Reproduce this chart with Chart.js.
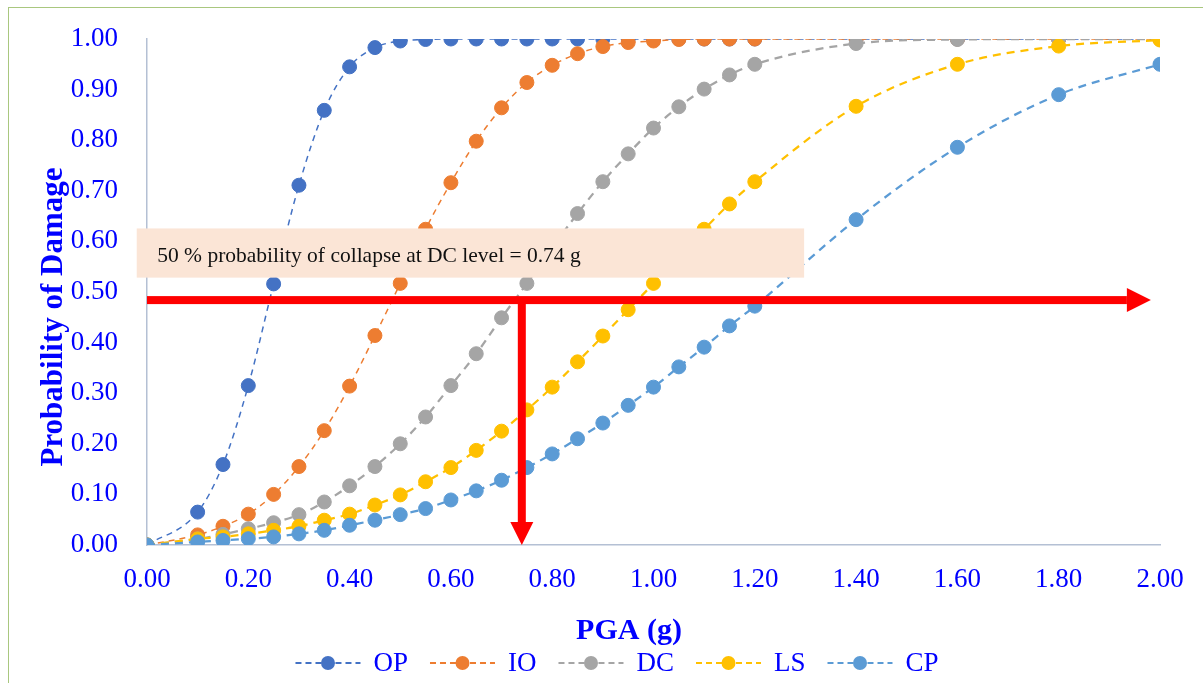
<!DOCTYPE html>
<html>
<head>
<meta charset="utf-8">
<script src="https://cdn.jsdelivr.net/npm/chart.js@4.4.0/dist/chart.umd.min.js"></script>
<style>
html,body{margin:0;padding:0;background:#fff;overflow:hidden;}
#wrap{position:relative;width:1203px;height:683px;}
#c{position:absolute;left:0;top:0;}
#frame{position:absolute;left:8px;top:7px;width:1300px;height:800px;border-top:1px solid #A9C77F;border-left:1px solid #A9C77F;pointer-events:none;}
</style>
</head>
<body>
<div id="wrap"><canvas id="c" width="1203" height="683"></canvas><div id="frame"></div></div>
<script>
// ---- data ----
const pga = [0, 0.1, 0.15, 0.2, 0.25, 0.3, 0.35, 0.4, 0.45, 0.5, 0.55, 0.6, 0.65, 0.7, 0.75, 0.8, 0.85, 0.9, 0.95, 1.0, 1.05, 1.1, 1.15, 1.2, 1.4, 1.6, 1.8, 2.0];
const OP = [0, 0.065, 0.159, 0.315, 0.516, 0.711, 0.859, 0.945, 0.983, 0.996, 0.999, 1, 1, 1, 1, 1, 1, 1, 1, 1, 1, 1, 1, 1, 1, 1, 1, 1];
const IO = [0, 0.020, 0.037, 0.061, 0.100, 0.155, 0.226, 0.314, 0.414, 0.517, 0.624, 0.716, 0.798, 0.864, 0.914, 0.948, 0.971, 0.985, 0.993, 0.996, 0.999, 1, 1, 1, 1, 1, 1, 1];
const DC = [0, 0.012, 0.021, 0.032, 0.044, 0.060, 0.085, 0.117, 0.155, 0.200, 0.253, 0.315, 0.378, 0.449, 0.517, 0.588, 0.655, 0.718, 0.773, 0.824, 0.866, 0.901, 0.929, 0.950, 0.991, 0.999, 1, 1];
const LS = [0, 0.012, 0.016, 0.022, 0.029, 0.037, 0.049, 0.061, 0.079, 0.099, 0.125, 0.153, 0.187, 0.225, 0.267, 0.312, 0.362, 0.413, 0.465, 0.517, 0.572, 0.624, 0.674, 0.718, 0.867, 0.950, 0.986, 0.998];
const CP = [0, 0.006, 0.009, 0.0125, 0.016, 0.022, 0.029, 0.039, 0.049, 0.060, 0.072, 0.089, 0.107, 0.128, 0.153, 0.180, 0.210, 0.241, 0.276, 0.312, 0.352, 0.391, 0.433, 0.472, 0.643, 0.786, 0.890, 0.950];
const seriesNames = ['OP', 'IO', 'DC', 'LS', 'CP'];
const xTickValues = [0, 0.2, 0.4, 0.6, 0.8, 1.0, 1.2, 1.4, 1.6, 1.8, 2.0];
const yTickValues = [0, 0.1, 0.2, 0.3, 0.4, 0.5, 0.6, 0.7, 0.8, 0.9, 1.0];
const xTitle = 'PGA (g)';
const yTitle = 'Probability of Damage';
const noteText = '50 % probability of collapse at DC level = 0.74 g';
const dcMedian = 0.74;      // vertical arrow position (g)
const arrowLevel = 0.484;   // horizontal arrow level
const arrowEnd = 1.982;     // horizontal arrow tip (g)
const noteBox = {x0: -0.0203, x1: 1.2974, yTop: 0.6256, yBottom: 0.5284};

// ---- styles ----
const colors = ['#4472C4', '#ED7D31', '#A5A5A5', '#FFC000', '#5B9BD5'];
const widths = [1.5, 1.5, 2.25, 2.25, 2.25];
const dashes = [[6, 5], [6, 5], [8, 6], [8, 6], [8, 6]];
const BLUE = '#0000FF';
const SERIF = '"Liberation Serif", "Times New Roman", serif';

const allSeries = [OP, IO, DC, LS, CP];
const datasets = allSeries.map((arr, i) => ({
  label: seriesNames[i],
  data: pga.map((x, k) => ({x: x, y: arr[k]})),
  borderColor: colors[i],
  backgroundColor: colors[i],
  pointBackgroundColor: colors[i],
  pointBorderColor: colors[i],
  pointBorderWidth: 1,
  pointRadius: 7,
  borderWidth: widths[i],
  borderDash: dashes[i],
  cubicInterpolationMode: 'monotone',
  order: allSeries.length - i
}));

const overlay = {
  id: 'overlay',
  afterDatasetsDraw(chart) {
    const {ctx} = chart;
    const x = chart.scales.x, y = chart.scales.y;
    ctx.save();
    // note box
    const bx0 = x.getPixelForValue(noteBox.x0), bx1 = x.getPixelForValue(noteBox.x1);
    const by0 = y.getPixelForValue(noteBox.yTop), by1 = y.getPixelForValue(noteBox.yBottom);
    ctx.fillStyle = '#FBE5D6';
    ctx.fillRect(bx0, by0, bx1 - bx0, by1 - by0);
    ctx.fillStyle = '#111111';
    ctx.font = '21.5px ' + SERIF;
    ctx.textAlign = 'left';
    ctx.textBaseline = 'alphabetic';
    ctx.fillText(noteText, bx0 + 20.5, by0 + 33.5);
    // horizontal arrow
    ctx.fillStyle = '#FF0000';
    const ay = y.getPixelForValue(arrowLevel);
    const ax0 = x.getPixelForValue(0);
    const aTip = x.getPixelForValue(arrowEnd);
    ctx.fillRect(ax0, ay - 4, aTip - 24 - ax0, 8);
    ctx.beginPath();
    ctx.moveTo(aTip - 24, ay - 12); ctx.lineTo(aTip, ay); ctx.lineTo(aTip - 24, ay + 12);
    ctx.closePath(); ctx.fill();
    // vertical arrow
    const vx = x.getPixelForValue(dcMedian);
    const vTip = y.getPixelForValue(0);
    ctx.fillRect(vx - 4, ay, 8, vTip - 23 - ay);
    ctx.beginPath();
    ctx.moveTo(vx - 11.5, vTip - 23); ctx.lineTo(vx, vTip); ctx.lineTo(vx + 11.5, vTip - 23);
    ctx.closePath(); ctx.fill();
    ctx.restore();
  },
  afterDraw(chart) {
    const {ctx, chartArea} = chart;
    ctx.save();
    // y title
    ctx.fillStyle = BLUE;
    ctx.font = 'bold 31px ' + SERIF;
    ctx.textAlign = 'center';
    ctx.textBaseline = 'alphabetic';
    ctx.translate(chartArea.left - 85, 317);
    ctx.rotate(-Math.PI / 2);
    ctx.fillText(yTitle, 0, 0);
    ctx.restore();
    ctx.save();
    // x title
    ctx.fillStyle = BLUE;
    ctx.font = 'bold 30px ' + SERIF;
    ctx.textAlign = 'center';
    ctx.textBaseline = 'alphabetic';
    ctx.fillText(xTitle, 629, 639);
    // legend
    const ds = chart.data.datasets;
    ctx.font = '27px ' + SERIF;
    const markW = 65, gap = 13, spacing = 22;
    const itemW = ds.map(d => markW + gap + ctx.measureText(d.label).width);
    const total = itemW.reduce((a, b) => a + b, 0) + spacing * (ds.length - 1);
    let cx = 617 - total / 2;
    const ly = 663;
    ds.forEach((d, i) => {
      ctx.strokeStyle = d.borderColor;
      ctx.lineWidth = 2;
      ctx.setLineDash([6, 4]);
      ctx.beginPath();
      ctx.moveTo(cx, ly); ctx.lineTo(cx + markW, ly);
      ctx.stroke();
      ctx.setLineDash([]);
      ctx.fillStyle = d.backgroundColor;
      ctx.beginPath();
      ctx.arc(cx + markW / 2, ly, 7, 0, Math.PI * 2);
      ctx.fill();
      ctx.fillStyle = BLUE;
      ctx.textAlign = 'left';
      ctx.textBaseline = 'middle';
      ctx.fillText(d.label, cx + markW + gap, ly + 1);
      cx += itemW[i] + spacing;
    });
    ctx.restore();
  }
};

new Chart(document.getElementById('c'), {
  type: 'line',
  data: {datasets: datasets},
  options: {
    responsive: false,
    animation: false,
    devicePixelRatio: 1,
    events: [],
    layout: {padding: {left: 37, right: 43, top: 39, bottom: 88}},
    plugins: {legend: {display: false}, tooltip: {enabled: false}},
    scales: {
      x: {
        type: 'linear', min: 0, max: 2,
        afterBuildTicks: s => { s.ticks = xTickValues.map(v => ({value: v})); },
        afterFit: s => { s.height = 50; s.paddingLeft = 0; s.paddingRight = 0; },
        grid: {display: false, drawTicks: false},
        border: {display: true, color: '#B4C0D4', width: 1.5},
        ticks: {color: BLUE, font: {family: SERIF, size: 27}, padding: 19, maxRotation: 0,
                callback: v => Number(v).toFixed(2)}
      },
      y: {
        type: 'linear', min: 0, max: 1,
        afterBuildTicks: s => { s.ticks = yTickValues.map(v => ({value: v})); },
        afterFit: s => { s.width = 110; s.paddingTop = 0; s.paddingBottom = 0; },
        grid: {display: false, drawTicks: false},
        border: {display: true, color: '#B4C0D4', width: 1.5},
        ticks: {color: BLUE, font: {family: SERIF, size: 27}, padding: 29,
                callback: v => Number(v).toFixed(2)}
      }
    }
  },
  plugins: [overlay]
});
</script>
</body>
</html>
